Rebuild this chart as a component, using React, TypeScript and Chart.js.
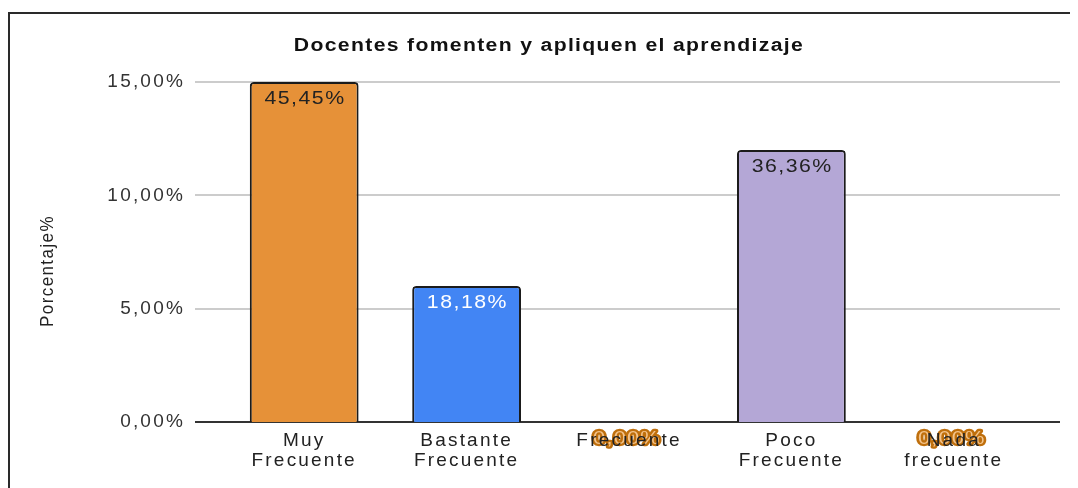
import React, { useEffect, useRef } from 'react';
import { Chart, registerables } from 'chart.js';

Chart.register(...registerables);

const TITLE = 'Docentes fomenten y apliquen el aprendizaje';
const Y_TITLE = 'Porcentaje%';
const categories = [['Muy', 'Frecuente'], ['Bastante', 'Frecuente'], ['Frecuente'], ['Poco', 'Frecuente'], ['Nada', 'frecuente']];
const values = [15, 6, 0, 12, 0];
const valueLabels = ['45,45%', '18,18%', '0,00%', '36,36%', '0,00%'];
const barColors = ['#E69138', '#4285F4', '#E69138', '#B4A7D6', '#E69138'];
const labelColors = ['#222222', '#FFFFFF', '#222222', '#222222', '#222222'];
const yMin = 0;
const yMax = 15;
const yStep = 5;

const FONT = '"Liberation Sans", Arial, sans-serif';

const fmt = (v: number) => v.toFixed(2).replace('.', ',') + '%';

function stretchedText(ctx: CanvasRenderingContext2D, text: string, x: number, y: number, sx: number, stroke?: boolean) {
  ctx.save();
  ctx.translate(x, y);
  ctx.scale(sx, 1);
  if (stroke) ctx.strokeText(text, 0, 0);
  ctx.fillText(text, 0, 0);
  ctx.restore();
}

const customPlugin = {
  id: 'custom',
  beforeDraw(chart: any) {
    const ctx = chart.ctx as CanvasRenderingContext2D;
    (ctx as any).letterSpacing = '2.2px';
    const y = chart.scales.y;
    const x0 = chart.chartArea.left - 28;
    const x1 = chart.chartArea.right + 25;
    ctx.save();
    for (let v = yMin; v <= yMax; v += yStep) {
      const py = Math.round(y.getPixelForValue(v));
      ctx.beginPath();
      ctx.moveTo(x0, py);
      ctx.lineTo(x1, py);
      ctx.lineWidth = 2;
      ctx.strokeStyle = v === 0 ? '#333333' : '#cccccc';
      ctx.stroke();
    }
    // zero-value labels (drawn beneath axis labels)
    const meta = chart.getDatasetMeta(0);
    (ctx as any).letterSpacing = '1px';
    ctx.font = '18.5px ' + FONT;
    ctx.textAlign = 'center';
    ctx.textBaseline = 'middle';
    meta.data.forEach((bar: any, i: number) => {
      if (values[i] !== 0) return;
      ctx.lineWidth = 4.5;
      ctx.lineJoin = 'round';
      ctx.strokeStyle = '#bf6f0c';
      ctx.fillStyle = '#f4c48c';
      stretchedText(ctx, valueLabels[i], bar.x - 2, bar.y + 16.5, 1.18, true);
    });
    ctx.restore();
  },
  afterDatasetsDraw(chart: any) {
    const ctx = chart.ctx as CanvasRenderingContext2D;
    const meta = chart.getDatasetMeta(0);
    ctx.save();
    (ctx as any).letterSpacing = '1.3px';
    ctx.font = '18.5px ' + FONT;
    ctx.textAlign = 'center';
    ctx.textBaseline = 'middle';
    meta.data.forEach((bar: any, i: number) => {
      if (values[i] === 0) return;
      ctx.fillStyle = labelColors[i];
      stretchedText(ctx, valueLabels[i], bar.x + 0.8, bar.y + 16.5, 1.15);
    });
    ctx.restore();
  },
  afterDraw(chart: any) {
    const ctx = chart.ctx as CanvasRenderingContext2D;
    ctx.save();
    (ctx as any).letterSpacing = '1.1px';
    ctx.font = 'bold 17.5px ' + FONT;
    ctx.fillStyle = '#111111';
    ctx.textAlign = 'center';
    ctx.textBaseline = 'middle';
    stretchedText(ctx, TITLE, 539, 32.5, 1.21);
    ctx.restore();

    ctx.save();
    (ctx as any).letterSpacing = '1.4px';
    ctx.font = '17px ' + FONT;
    ctx.fillStyle = '#222222';
    ctx.textAlign = 'center';
    ctx.textBaseline = 'middle';
    ctx.translate(38, 257);
    ctx.rotate(-Math.PI / 2);
    ctx.scale(1, 1.12);
    ctx.fillText(Y_TITLE, 0, 0);
    ctx.restore();
  },
};

export default function App() {
  const ref = useRef<HTMLCanvasElement | null>(null);
  useEffect(() => {
    document.body.style.overflow = 'hidden';
    document.documentElement.style.overflow = 'hidden';
    const chart = new Chart(ref.current as HTMLCanvasElement, {
      type: 'bar',
      data: {
        labels: categories,
        datasets: [
          {
            data: values,
            backgroundColor: barColors,
            borderColor: '#1b1b1b',
            borderWidth: 2,
            borderRadius: { topLeft: 4, topRight: 4, bottomLeft: 0, bottomRight: 0 },
            borderSkipped: 'bottom',
            barPercentage: 0.67,
            categoryPercentage: 1,
          },
        ],
      },
      options: {
        animation: false,
        responsive: true,
        maintainAspectRatio: false,
        layout: { padding: { top: 68, right: 43, bottom: 0, left: 0 } },
        plugins: { legend: { display: false }, tooltip: { enabled: false }, title: { display: false } },
        scales: {
          x: {
            grid: { display: false, drawTicks: false },
            border: { display: false },
            ticks: {
              font: { family: FONT, size: 19, lineHeight: 1.05 },
              color: '#222222',
              padding: 9,
              maxRotation: 0,
              autoSkip: false,
            },
            afterFit: (s: any) => {
              s.height = 66;
            },
          },
          y: {
            min: yMin,
            max: yMax,
            grid: { display: false, drawTicks: false },
            border: { display: false },
            ticks: {
              stepSize: yStep,
              callback: (v: any) => fmt(Number(v)),
              font: { family: FONT, size: 19 },
              color: '#333333',
              padding: 38,
            },
            afterFit: (s: any) => {
              s.width = 213;
            },
          },
        },
      },
      plugins: [customPlugin],
    });
    return () => chart.destroy();
  }, []);
  return (
    <div style={{ paddingTop: 4 }}>
      <div style={{ borderTop: '2px solid #2a2a2a', borderLeft: '2px solid #2a2a2a', width: 1068, height: 474 }}>
        <div style={{ position: 'relative', width: 1068, height: 474 }}>
          <canvas ref={ref} />
        </div>
      </div>
    </div>
  );
}
